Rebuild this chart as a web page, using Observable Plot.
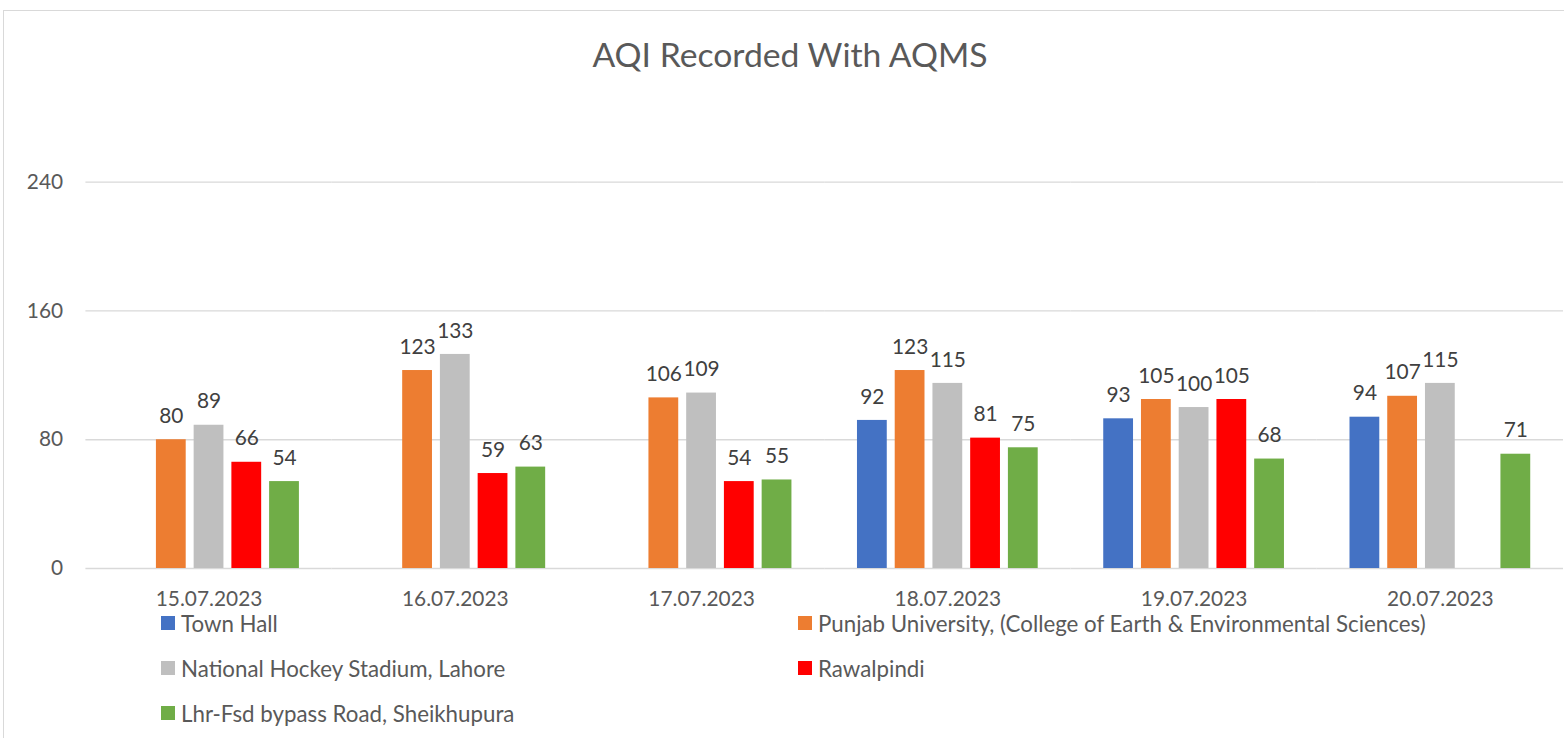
<!DOCTYPE html>
<html>
<head>
<meta charset="utf-8">
<script src="https://cdn.jsdelivr.net/npm/d3@7"></script>
<script src="https://cdn.jsdelivr.net/npm/@observablehq/plot@0.6"></script>
<style>
  html, body { margin: 0; padding: 0; background: #fff; overflow: hidden; }
  body { width: 1564px; height: 738px; position: relative; font-family: Lato, sans-serif; }
  #frame { position: absolute; left: 3px; top: 10px; width: 1600px; height: 800px; border: 1px solid #d9d9d9; box-sizing: border-box; }
  #title { position: absolute; left: 0; top: 34px; width: 1580px; text-align: center; font-size: 33.7px; color: #595959; line-height: 40px; }
  #chart { position: absolute; left: 0; top: 0; }
  #legend { position: absolute; left: 161px; top: 611px; display: grid; grid-template-columns: 637px 637px; grid-auto-rows: 45px; font-size: 22.3px; color: #595959; }
  .item { display: flex; align-items: center; height: 24px; white-space: nowrap; }
  .sw { width: 14px; height: 14px; margin-right: 6px; flex: none; }
</style>
</head>
<body>
<div id="frame"></div>
<div id="title">AQI Recorded With AQMS</div>
<div id="chart"></div>
<div id="legend"></div>
<script>
const dates = ["15.07.2023", "16.07.2023", "17.07.2023", "18.07.2023", "19.07.2023", "20.07.2023"];
const series = [
  "Town Hall",
  "Punjab University, (College of Earth & Environmental Sciences)",
  "National Hockey Stadium, Lahore",
  "Rawalpindi",
  "Lhr-Fsd bypass Road, Sheikhupura"
];
const colors = ["#4472C4", "#ED7D31", "#BFBFBF", "#FF0000", "#70AD47"];
const townHall   = [null, null, null, 92, 93, 94];
const punjabUni  = [80, 123, 106, 123, 105, 107];
const hockey     = [89, 133, 109, 115, 100, 115];
const rawalpindi = [66, 59, 54, 81, 105, null];
const sheikhupura= [54, 63, 55, 75, 68, 71];
const yTicks = [0, 80, 160, 240];

const seriesValues = [townHall, punjabUni, hockey, rawalpindi, sheikhupura];
const data = [];
dates.forEach((d, i) => {
  series.forEach((s, j) => {
    const v = seriesValues[j][i];
    if (v != null) data.push({date: d, series: s, value: v});
  });
});

const chart = Plot.plot({
  width: 1575,
  height: 616,
  marginLeft: 84,
  marginRight: 0,
  marginTop: 183,
  marginBottom: 44,
  style: {fontFamily: "Lato, sans-serif", fontSize: "21px", color: "#595959", background: "transparent", overflow: "visible"},
  fx: {domain: dates, padding: 0, axis: "bottom", tickSize: 0, tickPadding: 23, label: null},
  x: {domain: series, axis: null, paddingInner: 0.215, paddingOuter: 0.86},
  y: {domain: [0, 240], ticks: yTicks, tickSize: 0, tickPadding: 23, label: null},
  color: {domain: series, range: colors},
  marks: [
    Plot.ruleY(yTicks, {stroke: "#d9d9d9", strokeWidth: 1.3}),
    Plot.barY(data, {fx: "date", x: "series", y: "value", fill: "series"}),
    Plot.text(data, {fx: "date", x: "series", y: "value", text: d => String(d.value), lineAnchor: "bottom", dy: -17, fill: "#404040", fontSize: 21})
  ]
});
document.getElementById("chart").appendChild(chart);

const legend = document.getElementById("legend");
series.forEach((s, j) => {
  const it = document.createElement("div");
  it.className = "item";
  const sw = document.createElement("span");
  sw.className = "sw";
  sw.style.background = colors[j];
  const tx = document.createElement("span");
  tx.textContent = s;
  it.appendChild(sw);
  it.appendChild(tx);
  legend.appendChild(it);
});
</script>
</body>
</html>
